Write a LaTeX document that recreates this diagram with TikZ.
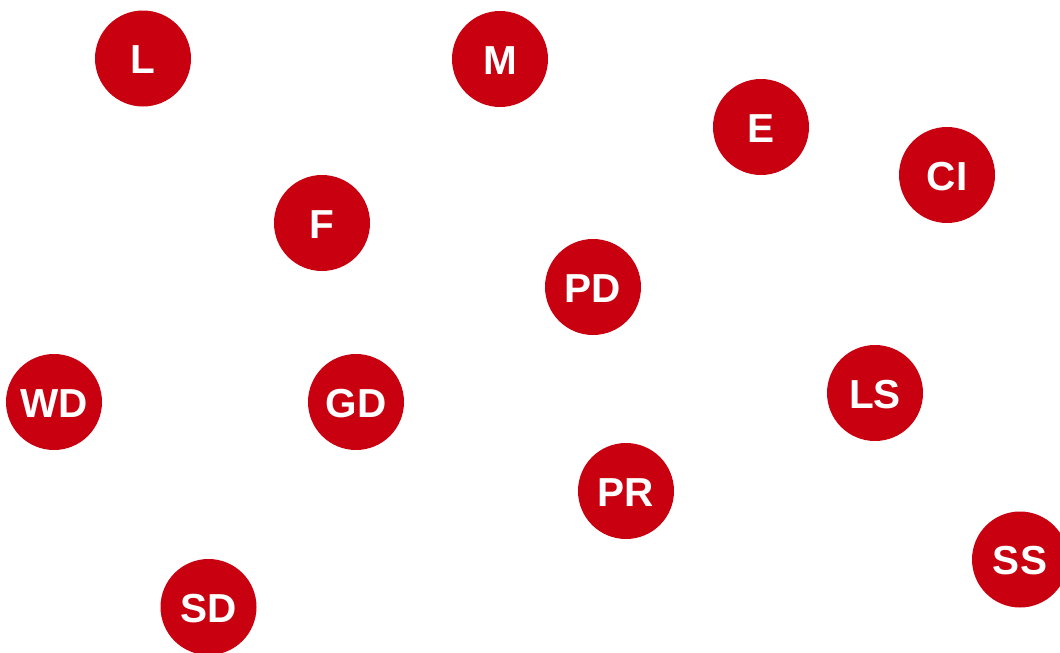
\documentclass[tikz,border=0pt]{standalone}
\usepackage{fontspec}
\setmainfont{Liberation Sans}
\definecolor{dotred}{RGB}{200,0,16}
\begin{document}
\begin{tikzpicture}[x=1pt,y=-1pt,
  dot/.style={circle,fill=dotred,minimum size=96pt,inner sep=0pt,text=white,
    text height=30.5pt,text depth=0pt,
    font=\fontsize{40.5}{40.5}\selectfont\bfseries}]
\useasboundingbox (0,0) rectangle (1060,653);
\node[dot] (L)  at (143,58.5) {L};
\node[dot] (M)  at (500,59) {M};
\node[dot] (E)  at (761,127) {E};
\node[dot] (CI) at (947,175) {CI};
\node[dot] (F)  at (322,223) {F};
\node[dot] (PD) at (593,287) {PD};
\node[dot] (WD) at (54,402) {WD};
\node[dot] (GD) at (356,402) {GD};
\node[dot] (LS) at (875,393) {LS};
\node[dot] (PR) at (626,491) {PR};
\node[dot] (SS) at (1020,559.5) {SS};
\node[dot] (SD) at (208.5,607) {SD};
\end{tikzpicture}
\end{document}
